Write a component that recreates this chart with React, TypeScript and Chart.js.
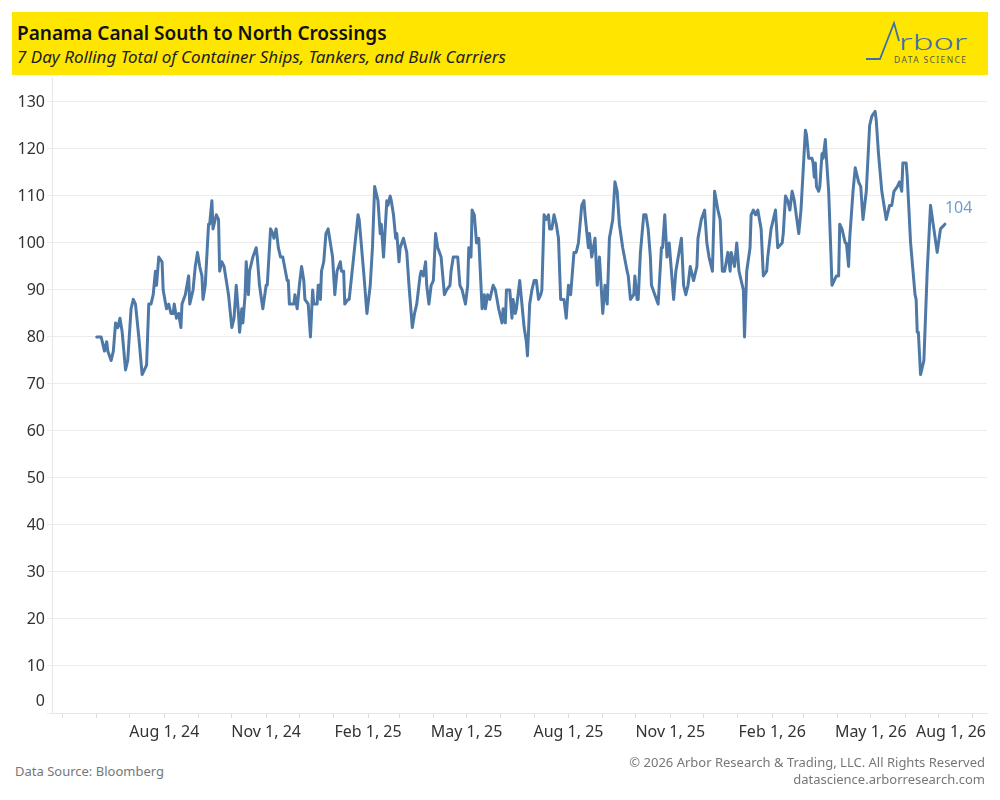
import React, { useEffect, useRef } from 'react';
import { Chart, registerables } from 'chart.js';

Chart.register(...registerables);

// Days since 1 Jun 2024
const START_UTC = Date.UTC(2024, 5, 1);
const DAY_MS = 86400000;

const dayOffsets: number[] = [
  0, 4, 5, 7, 9, 10, 13, 15, 17, 19, 21, 23, 26, 28, 31, 33, 35, 38, 41, 43, 45, 47, 49, 51, 53, 54, 56, 59, 60, 63,
  65, 67, 69, 70, 72, 74, 76, 77, 80, 83, 84, 87, 89, 91, 93, 95, 96, 98, 101, 102, 104, 105, 108, 110, 111, 113, 115,
  117, 119, 122, 124, 126, 128, 129,
  131, 132, 134, 135, 137, 138, 140, 141, 144, 145, 147, 150, 153, 154, 157, 159, 160, 162, 164, 166, 168, 172, 173,
  174, 178, 179, 181, 183, 185, 187, 188, 191, 193, 195, 196, 199, 200, 201, 202, 203, 205, 207, 209, 211, 213, 215,
  217, 220, 221, 223, 224, 227, 228, 232, 236, 237, 241, 244, 247, 249, 251, 254, 256, 257, 259,
  262, 263, 265, 266, 268, 270, 271, 273, 274, 277, 278, 280, 282, 285, 287, 289, 292, 293, 295, 297, 298, 300, 302,
  304, 306, 308, 311, 314, 316, 319, 320, 322, 326, 328, 330, 333, 335, 336, 338, 339, 341, 343, 345, 347, 348, 350,
  351, 353, 355, 358, 360, 363, 366, 367, 369, 370, 373, 375, 376, 378, 379, 382, 384, 386, 388, 389,
  391, 393, 395, 397, 399, 401, 402, 404, 406, 408, 409, 411, 413, 415, 417, 419, 422, 424, 426, 428, 431, 433, 435,
  438, 440, 441, 444, 445, 447, 450, 452, 454, 457, 459, 461, 463, 466, 468, 470, 472, 475, 479, 480, 482, 485, 486,
  488, 489, 491, 494, 496, 498, 500, 501, 504, 507, 510, 511, 513,
  515, 517, 521, 523, 528, 530, 532, 534, 536, 539, 542, 543, 546, 549, 551, 553, 556, 558, 561, 563, 565, 567, 570,
  572, 573, 576, 578, 580, 584, 585, 587, 590, 591, 593, 595, 597, 600, 602, 605, 606, 609, 611, 613, 615, 619, 620,
  622, 624, 626, 628, 630, 634, 636, 640,
  641, 643, 646, 647, 648, 649, 650, 652, 653, 655, 656, 658, 659, 661, 663, 664, 666, 668, 670, 671, 673, 676, 677,
  679, 680, 683, 685, 688, 690, 692, 695, 698, 700, 703, 704, 706, 709, 713, 716, 718, 720, 723, 725, 727, 728, 731,
  732, 735, 739, 740, 741, 742, 744, 747, 750, 753, 756, 759, 762, 766,
];

const crossings: number[] = [
  80, 80, 79, 77, 79, 77, 75, 77, 83, 82, 84, 81, 73, 75, 86, 88, 87, 80, 72, 73, 74, 87, 87, 89, 94, 91, 97, 96, 90, 86,
  87, 85, 85, 87, 84, 85, 82, 87, 89, 93, 87, 90, 95, 98, 95, 93, 88, 91, 104, 104, 109, 103, 106, 105, 94, 96, 95,
  92, 89, 82, 84, 91, 85, 81,
  86, 83, 89, 96, 89, 94, 96, 97, 99, 97, 91, 86, 91, 91, 103, 102, 101, 103, 99, 97, 97, 92, 92,
  87, 87, 89, 86, 91, 95, 92, 88, 87, 80, 90, 87, 87, 91, 91, 88, 94, 96, 102, 103, 100, 97, 89,
  94, 96, 94, 94, 87, 88, 88, 97, 106, 105, 94, 85, 91, 99, 112, 109, 102, 104, 97,
  109, 108, 110, 109, 106, 101, 102, 96, 99, 101, 100, 98, 91, 82, 85, 87, 93, 94, 93, 96, 91, 87, 91,
  92, 102, 99, 97, 89, 90, 91, 94, 97, 97, 91, 90, 87, 91, 99, 97, 107, 106, 100, 101, 91, 86, 89,
  86, 89, 88, 91, 90, 86, 83, 86, 83, 90, 90, 84, 88, 85, 86, 92, 87, 82, 79, 76,
  87, 90, 92, 92, 88, 89, 90, 106, 105, 106, 103, 103, 106, 104, 101, 88, 88, 84, 91, 89, 98, 98, 100,
  108, 109, 106, 99, 102, 97, 101, 91, 97, 85, 91, 87, 101, 105, 113, 111, 104, 99, 94, 93, 88, 89, 93,
  88, 88, 98, 106, 106, 103, 97, 91, 89, 87, 99, 99, 106,
  97, 100, 88, 94, 101, 91, 89, 91, 95, 92, 95, 101, 105, 107, 100, 97, 94, 111, 107, 105, 94, 94, 98,
  94, 98, 95, 100, 94, 90, 80, 94, 99, 106, 107, 106, 107, 103, 93, 94, 97, 103, 105, 107, 99, 100, 102,
  110, 109, 107, 111, 109, 102, 107, 124,
  123, 118, 118, 117, 114, 117, 112, 111, 112, 119, 118, 122, 118, 111, 98, 91, 92, 93, 93, 104, 103, 100, 100,
  95, 101, 111, 116, 113, 112, 105, 111, 125, 127, 128, 126, 119, 111, 105, 108, 108, 111, 112, 113, 111, 117,
  117, 114, 100, 89, 88, 81, 81, 72, 75, 94, 108, 103, 98, 103, 104,
];

const yTickValues: number[] = [0, 10, 20, 30, 40, 50, 60, 70, 80, 90, 100, 110, 120, 130];
const xTickLabels: string[] = [
  'Aug 1, 24', 'Nov 1, 24', 'Feb 1, 25', 'May 1, 25', 'Aug 1, 25', 'Nov 1, 25', 'Feb 1, 26', 'May 1, 26', 'Aug 1, 26',
];
const monthNames: string[] = ['Jan', 'Feb', 'Mar', 'Apr', 'May', 'Jun', 'Jul', 'Aug', 'Sep', 'Oct', 'Nov', 'Dec'];

const X_MIN = -40.4;
const X_MAX = 804;
const Y_MAX = 135.1;

type MonthTick = { value: number; label: string };

function buildMonthTicks(): MonthTick[] {
  const out: MonthTick[] = [];
  let y = 2024;
  let m = 4; // May 2024
  while (y < 2026 || (y === 2026 && m <= 7)) {
    const value = (Date.UTC(y, m, 1) - START_UTC) / DAY_MS;
    const text = `${monthNames[m]} 1, ${String(y).slice(2)}`;
    out.push({ value, label: xTickLabels.includes(text) ? text : '' });
    m += 1;
    if (m > 11) {
      m = 0;
      y += 1;
    }
  }
  return out;
}

const FONT = '"Noto Sans", "DejaVu Sans", sans-serif';

export default function App() {
  const canvasRef = useRef<HTMLCanvasElement | null>(null);

  useEffect(() => {
    const canvas = canvasRef.current;
    if (!canvas) return;
    const monthTicks = buildMonthTicks();
    const points = dayOffsets.map((d, i) => ({ x: d, y: crossings[i] }));

    const labelPlugin = {
      id: 'customLabels',
      afterDraw(chart: any) {
        const { ctx, chartArea, scales } = chart;
        ctx.save();
        ctx.font = `16px ${FONT}`;
        ctx.fillStyle = '#333333';
        ctx.textAlign = 'right';
        ctx.textBaseline = 'middle';
        yTickValues.forEach((v) => {
          let py = scales.y.getPixelForValue(v);
          if (v === 0) py -= 12;
          ctx.fillText(String(v), chartArea.left - 7, py);
        });
        ctx.textAlign = 'center';
        monthTicks.forEach((t) => {
          if (!t.label) return;
          const px = scales.x.getPixelForValue(t.value);
          const w = ctx.measureText(t.label).width;
          const cx = Math.min(px, chartArea.right - 1 - w / 2);
          ctx.fillText(t.label, cx, chartArea.bottom + 19);
        });
        const lastIdx = crossings.length - 1;
        const lx = scales.x.getPixelForValue(dayOffsets[lastIdx]);
        const ly = scales.y.getPixelForValue(crossings[lastIdx]);
        ctx.fillStyle = '#6f9fcf';
        ctx.textAlign = 'left';
        ctx.fillText(String(crossings[lastIdx]), lx, ly - 16);
        ctx.restore();
      },
    };

    const chart = new Chart(canvas, {
      type: 'line',
      data: {
        datasets: [
          {
            data: points,
            borderColor: '#4e79a7',
            borderWidth: 3,
            pointRadius: 0,
            tension: 0,
            fill: false,
            borderJoinStyle: 'round',
            borderCapStyle: 'round',
          },
        ],
      },
      options: {
        animation: false,
        responsive: false,
        maintainAspectRatio: false,
        layout: { padding: { left: 0, right: 13, top: 0, bottom: 0 } },
        plugins: { legend: { display: false }, tooltip: { enabled: false } },
        scales: {
          x: {
            type: 'linear',
            min: X_MIN,
            max: X_MAX,
            afterBuildTicks: (s: any) => {
              s.ticks = monthTicks.map((t) => ({ value: t.value }));
            },
            afterFit: (s: any) => {
              s.height = 45;
            },
            ticks: { display: false },
            grid: { drawOnChartArea: false, drawTicks: true, tickLength: 5, color: '#dcdcdc' },
            border: { display: true, color: '#e6e6e6' },
          },
          y: {
            type: 'linear',
            min: 0,
            max: Y_MAX,
            afterBuildTicks: (s: any) => {
              s.ticks = yTickValues.map((v) => ({ value: v }));
            },
            afterFit: (s: any) => {
              s.width = 52;
            },
            ticks: { display: false },
            grid: { color: '#ececec', drawTicks: true, tickLength: 5 },
            border: { display: true, color: '#e6e6e6' },
          },
        },
      } as any,
      plugins: [labelPlugin],
    } as any);

    return () => {
      chart.destroy();
    };
  }, []);

  return (
    <div
      style={{
        position: 'absolute',
        left: 0,
        top: 0,
        width: 1000,
        height: 800,
        background: '#ffffff',
        fontFamily: FONT,
        overflow: 'hidden',
      }}
    >
      <div
        style={{
          position: 'absolute',
          left: 12,
          top: 12,
          width: 976,
          height: 63,
          background: '#FFE600',
        }}
      />
      <div
        style={{
          position: 'absolute',
          left: 17,
          top: 21,
          height: 24,
          lineHeight: '24px',
          fontSize: 19,
          fontWeight: 600,
          color: '#111',
          whiteSpace: 'nowrap',
        }}
      >
        Panama Canal South to North Crossings
      </div>
      <div
        style={{
          position: 'absolute',
          left: 17,
          top: 46,
          height: 22,
          lineHeight: '22px',
          fontSize: 17,
          fontStyle: 'italic',
          color: '#222',
          whiteSpace: 'nowrap',
        }}
      >
        7 Day Rolling Total of Container Ships, Tankers, and Bulk Carriers
      </div>
      <svg
        width={130}
        height={58}
        viewBox="855 14 130 58"
        style={{ position: 'absolute', left: 855, top: 14 }}
      >
        <polyline
          points="866,59 880,59 894,23 899,41"
          fill="none"
          stroke="#3f6fa6"
          strokeWidth={1.8}
          strokeLinejoin="miter"
        />
        <text
          x={0}
          y={0}
          fontSize={21}
          fontWeight={300}
          fill="#3f6fa6"
          fontFamily={FONT}
          transform="translate(899,50) scale(1.65,1)"
        >
          rbor
        </text>
        <text
          x={894}
          y={62.5}
          fontSize={8.5}
          fill="#5a5a40"
          fontFamily={FONT}
          textLength={72}
          lengthAdjust="spacing"
        >
          DATA SCIENCE
        </text>
      </svg>
      <canvas
        ref={canvasRef}
        width={1000}
        height={680}
        style={{ position: 'absolute', left: 0, top: 78, width: 1000, height: 680 }}
      />
      <div
        style={{
          position: 'absolute',
          left: 15,
          top: 762,
          height: 18,
          lineHeight: '18px',
          fontSize: 13,
          color: '#777',
          whiteSpace: 'nowrap',
        }}
      >
        Data Source: Bloomberg
      </div>
      <div
        style={{
          position: 'absolute',
          right: 15,
          top: 753,
          height: 18,
          lineHeight: '18px',
          fontSize: 13,
          color: '#777',
          whiteSpace: 'nowrap',
          textAlign: 'right',
        }}
      >
        © 2026 Arbor Research &amp; Trading, LLC. All Rights Reserved
      </div>
      <div
        style={{
          position: 'absolute',
          right: 15,
          top: 770,
          height: 18,
          lineHeight: '18px',
          fontSize: 13,
          color: '#777',
          whiteSpace: 'nowrap',
          textAlign: 'right',
        }}
      >
        datascience.arborresearch.com
      </div>
    </div>
  );
}
